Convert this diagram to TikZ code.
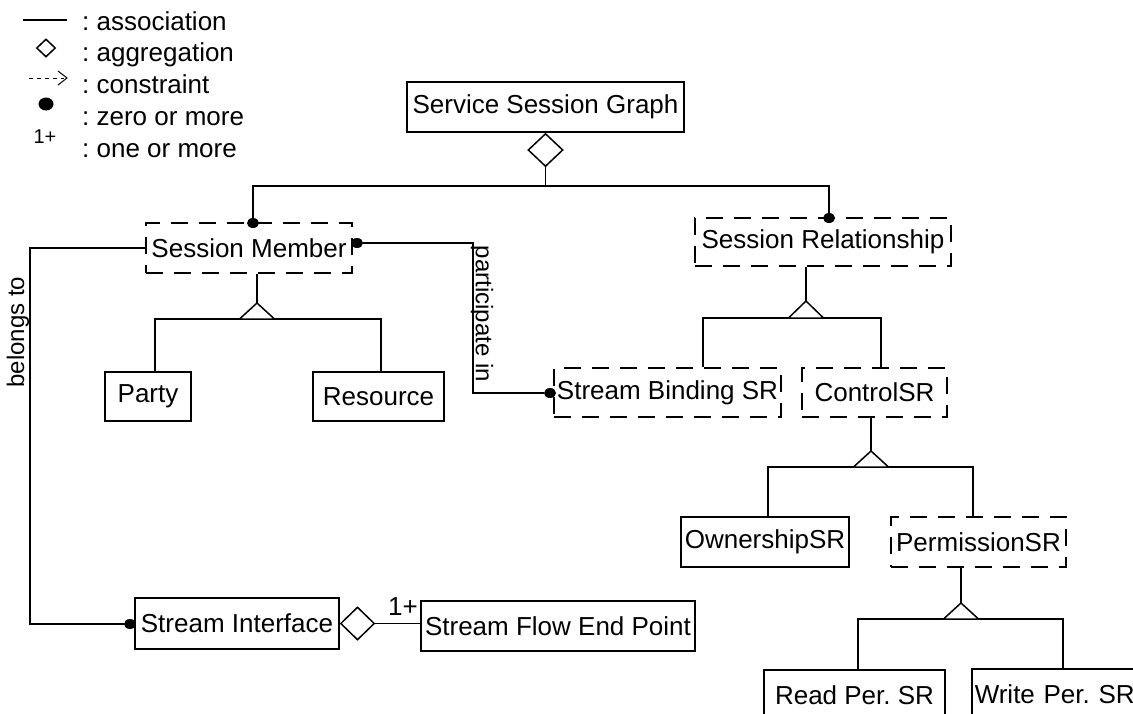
\documentclass[tikz,border=0pt]{standalone}
\usepackage{fontspec}
\setmainfont{Liberation Sans}
\usetikzlibrary{shapes.geometric,arrows.meta}
\frenchspacing
\begin{document}
\begin{tikzpicture}[x=1pt,y=-1pt,
  every node/.style={font=\fontsize{26}{30}\selectfont, inner sep=0pt},
  lnk/.style={line width=1.5pt},
  cls/.style={draw, line width=1.5pt, rectangle, align=center, fill=white},
  abs/.style={cls, dash pattern=on 17pt off 11pt},
  zdot/.style={ellipse, fill=black, draw=none, minimum width=12pt, minimum height=10pt, inner sep=0pt},
  agg/.style={diamond, draw, fill=white, line width=1.5pt, minimum width=35pt, minimum height=33pt, inner sep=0pt},
  isa/.style={draw, line width=1.5pt, fill=white},
  lbl/.style={font=\fontsize{24}{28}\selectfont},
  ]
\useasboundingbox (0,0) rectangle (1133,713);
\clip (0,0) rectangle (1133,713);

% ---------- legend ----------
\draw[lnk] (23,20) -- (67,20);
\node[anchor=base west] (lga) at (82,30) {: association};
\node[agg, minimum width=19pt, minimum height=18pt] (lgd) at (46,48) {};
\node[anchor=base west] (lgb) at (82,61) {: aggregation};
\draw[line width=1pt, dash pattern=on 4pt off 4pt] (29,78) -- (64,78);
\draw[line width=1pt] (58,71) -- (67,78) -- (58,85);
\node[anchor=base west] (lgc) at (82,93) {: constraint};
\node[zdot, minimum width=15pt, minimum height=13pt] (lgz) at (46,104) {};
\node[anchor=base west] (lge) at (82,125) {: zero or more};
\node[font=\fontsize{20}{24}\selectfont] (lgo) at (45,137) {1+};
\node[anchor=base west] (lgf) at (82,157) {: one or more};

% ---------- classes ----------
\node[cls, minimum width=277pt, minimum height=50pt] (ssg) at (545.5,107) {Service Session Graph};
\node[abs, minimum width=206pt, minimum height=50pt] (sm) at (249,248) {Session Member};
\node[abs, minimum width=256pt, minimum height=48pt] (sr) at (823,242) {Session Relationship};
\node[cls, minimum width=86pt, minimum height=49pt] (party) at (148,396.5) {Party};
\node[cls, minimum width=131pt, minimum height=49pt] (res) at (378.5,396.5) {Resource};
\node[abs, minimum width=227pt, minimum height=49pt] (sb) at (667.5,392.5) {Stream Binding SR};
\node[abs, minimum width=145pt, minimum height=49pt] (ctrl) at (874.5,392.5) {ControlSR};
\node[cls, minimum width=168pt, minimum height=50pt] (own) at (765,542) {OwnershipSR};
\node[abs, minimum width=175pt, minimum height=50pt] (perm) at (978.5,542) {PermissionSR};
\node[cls, minimum width=181pt, minimum height=50pt] (rd) at (854.5,695) {Read Per. SR};
\node[cls, anchor=north west, minimum height=50pt, text width=190pt, align=left, inner xsep=3pt] (wr) at (971,668) {Write Per. SR};
\node[cls, minimum width=204pt, minimum height=51pt] (si) at (237,623.5) {Stream Interface};
\node[cls, minimum width=274pt, minimum height=50pt] (sf) at (558,626) {Stream Flow End Point};

% ---------- aggregation of the session graph ----------
\node[agg, anchor=north] (a1) at (ssg.south) {};
\coordinate (bus) at (545.5,186);
\node[zdot] (d1) at (253,223) {};
\node[zdot] (d2) at (829,218) {};
\draw[lnk] (a1.south) -- (bus);
\draw[lnk] (d1) |- (bus) -| (d2);

% ---------- participate in ----------
\node[zdot] (d3) at (357,243) {};
\node[zdot] (d4) at (550,393) {};
\coordinate (pj) at (473,318);
\draw[lnk] (d3) -| (pj) |- (d4);
\node[lbl, rotate=-90] (lpart) at (482,314) {participate in};

% ---------- belongs to ----------
\node[zdot] (d5) at (130,624) {};
\coordinate (bj) at (30,440);
\draw[lnk] (sm.west) -| (bj) |- (d5);
\node[lbl, rotate=90] (lbel) at (18,332) {belongs to};

% ---------- stream interface aggregation ----------
\draw[lnk] (si.east) -- (si.east -| sf.west);
\node[agg, anchor=west, minimum width=34pt] (a2) at (si.east) {};
\node (one) at (403,607) {1+};

% ---------- generalisations ----------
% Session Member -> Party, Resource
\coordinate (g1) at (257,303);
\coordinate (g1l) at (155,319);
\coordinate (g1r) at (381,319);
\draw[lnk] (g1 |- sm.south) -- (g1);
\draw[lnk] (g1l |- party.north) -- (g1l) -- (g1r) -- (g1r |- res.north);
\draw[isa] (g1) -- ++(-17.5,16) -- ++(35,0) -- cycle;

% Session Relationship -> Stream Binding SR, ControlSR
\coordinate (g2) at (806,301);
\coordinate (g2l) at (703,318);
\coordinate (g2r) at (881,318);
\draw[lnk] (g2 |- sr.south) -- (g2);
\draw[lnk] (g2l |- sb.north) -- (g2l) -- (g2r) -- (g2r |- ctrl.north);
\draw[isa] (g2) -- ++(-17.5,17) -- ++(35,0) -- cycle;

% ControlSR -> OwnershipSR, PermissionSR
\coordinate (g3) at (871,451);
\coordinate (g3l) at (768,467);
\coordinate (g3r) at (973,467);
\draw[lnk] (g3 |- ctrl.south) -- (g3);
\draw[lnk] (g3l |- own.north) -- (g3l) -- (g3r) -- (g3r |- perm.north);
\draw[isa] (g3) -- ++(-17.5,16) -- ++(35,0) -- cycle;

% PermissionSR -> Read Per. SR, Write Per. SR
\coordinate (g4) at (961,603);
\coordinate (g4l) at (858,619);
\coordinate (g4r) at (1063,619);
\draw[lnk] (g4 |- perm.south) -- (g4);
\draw[lnk] (g4l |- rd.north) -- (g4l) -- (g4r) -- (g4r |- wr.north);
\draw[isa] (g4) -- ++(-17.5,16) -- ++(35,0) -- cycle;
\end{tikzpicture}
\end{document}
